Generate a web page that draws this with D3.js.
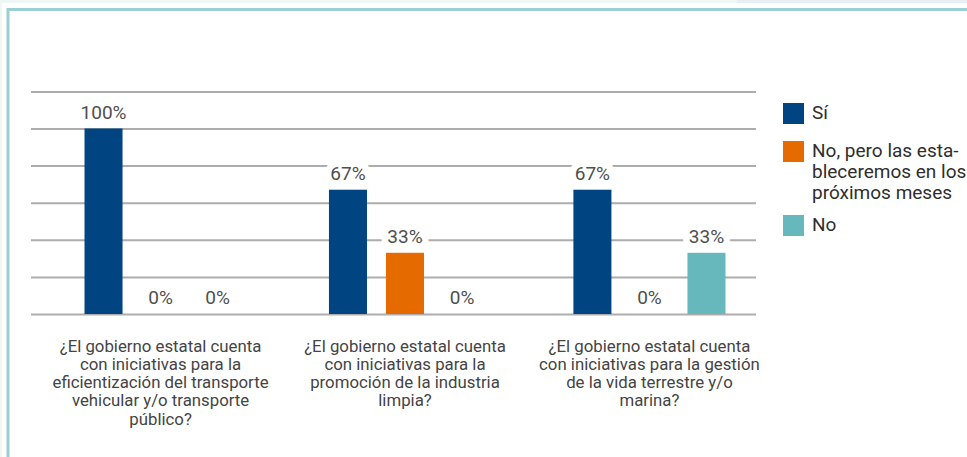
<!DOCTYPE html>
<html>
<head>
<meta charset="utf-8">
<script src="https://cdn.jsdelivr.net/npm/d3@7"></script>
<style>
  html, body { margin: 0; padding: 0; background: #fff; }
  svg { display: block; font-family: Roboto, "Noto Sans", sans-serif; }
</style>
</head>
<body>
<div id="chart"></div>
<script>
// categories (already wrapped as in the original)
const categories = [
  ['¿El gobierno estatal cuenta', 'con iniciativas para la', 'eficientización del transporte', 'vehicular y/o transporte', 'público?'],
  ['¿El gobierno estatal cuenta', 'con iniciativas para la', 'promoción de la industria', 'limpia?'],
  ['¿El gobierno estatal cuenta', 'con iniciativas para la gestión', 'de la vida terrestre y/o', 'marina?']
];
const seriesNames = ['Sí', 'No, pero las estableceremos en los próximos meses', 'No'];
const legendLines = [['Sí'], ['No, pero las esta-', 'bleceremos en los', 'próximos meses'], ['No']];
const seriesColors = ['#004481', '#e56a00', '#66b8bc'];
// values per series, one per category (%)
const siValues = [100, 67, 67];
const pronto = [0, 33, 0];
const noValues = [0, 0, 33];
const gridTicks = [0, 20, 40, 60, 80, 100, 120];

const width = 967, height = 457;

const svg = d3.select('#chart')
  .append('svg')
  .attr('width', width)
  .attr('height', height);

// page frame
svg.append('rect').attr('x', 0).attr('y', 0).attr('width', 737).attr('height', 3).attr('fill', '#eef7f6');
svg.append('rect').attr('x', 737).attr('y', 0).attr('width', width - 737).attr('height', 3).attr('fill', '#e8eef8');
svg.append('rect').attr('x', 0).attr('y', 0).attr('width', 2).attr('height', height).attr('fill', '#f1f8f4');
svg.append('path')
  .attr('d', `M8,${height} V9.5 H${width}`)
  .attr('fill', 'none')
  .attr('stroke', '#9ccfd3')
  .attr('stroke-width', 3);

const y = d3.scaleLinear().domain([0, 120]).range([314, 91.4]);

const x0 = d3.scaleBand()
  .domain(d3.range(categories.length))
  .range([75, 735])
  .paddingInner(0.3)
  .paddingOuter(0);

const x1 = d3.scaleBand()
  .domain(d3.range(seriesNames.length))
  .range([0, x0.bandwidth()])
  .paddingInner(1 / 3)
  .paddingOuter(1 / 6);

// gridlines
const grid = svg.append('g')
  .attr('transform', 'translate(31,0)')
  .call(d3.axisLeft(y).tickValues(gridTicks).tickSize(-(756 - 31)).tickFormat(''));
grid.select('.domain').remove();
grid.selectAll('.tick line').attr('stroke', '#adadad').attr('stroke-width', 2);

const table = categories.map((c, i) => [siValues[i], pronto[i], noValues[i]]);
const groups = svg.append('g').selectAll('g')
  .data(table)
  .join('g')
  .attr('transform', (d, i) => `translate(${x0(i)},0)`);

// value labels with white halo (drawn before the bars)
groups.selectAll('text.val')
  .data(d => d.map((v, s) => ({ v, s })))
  .join('text')
  .attr('class', 'val')
  .attr('x', d => x1(d.s) + x1.bandwidth() / 2)
  .attr('y', d => y(d.v) - 10)
  .attr('text-anchor', 'middle')
  .attr('font-size', 19)
  .attr('fill', '#4f4f4f')
  .attr('stroke', '#fff')
  .attr('stroke-width', 13)
  .attr('stroke-linejoin', 'round')
  .attr('paint-order', 'stroke')
  .text(d => d.v + '%');

groups.selectAll('rect')
  .data(d => d.map((v, s) => ({ v, s })).filter(d => d.v > 0))
  .join('rect')
  .attr('x', d => x1(d.s))
  .attr('y', d => y(d.v))
  .attr('width', x1.bandwidth())
  .attr('height', d => y(0) - y(d.v))
  .attr('fill', d => seriesColors[d.s]);

// category labels
const cat = svg.append('g').selectAll('text')
  .data(categories)
  .join('text')
  .attr('x', (d, i) => x0(i) + x0.bandwidth() / 2)
  .attr('y', 351.5)
  .attr('text-anchor', 'middle')
  .attr('font-size', 16.8)
  .attr('fill', '#444');
cat.selectAll('tspan')
  .data(d => d)
  .join('tspan')
  .attr('x', function () { return this.parentNode.getAttribute('x'); })
  .attr('dy', (d, i) => i === 0 ? 0 : 18.3)
  .text(d => d);

// legend
const legendY = [103, 141, 215];
const legend = svg.append('g').selectAll('g')
  .data(seriesNames)
  .join('g')
  .attr('transform', (d, i) => `translate(783,${legendY[i]})`);
legend.append('rect')
  .attr('width', 21)
  .attr('height', 21)
  .attr('fill', (d, i) => seriesColors[i]);
const lt = legend.append('text')
  .attr('x', 29)
  .attr('y', 15.5)
  .attr('font-size', 19)
  .attr('fill', '#2e2e2e');
lt.selectAll('tspan')
  .data((d, i) => legendLines[i])
  .join('tspan')
  .attr('x', 29)
  .attr('dy', (d, i) => i === 0 ? 0 : 21)
  .text(d => d);
</script>
</body>
</html>
